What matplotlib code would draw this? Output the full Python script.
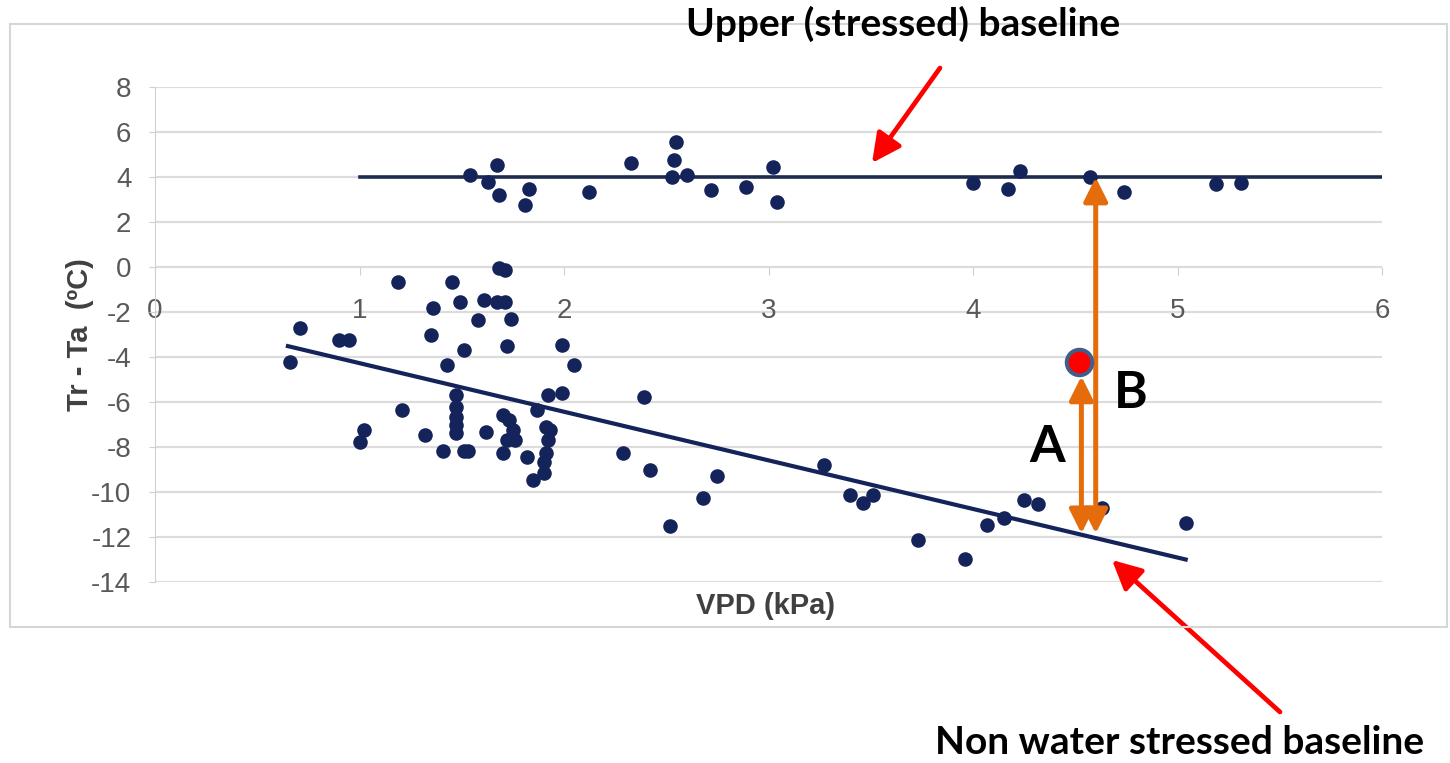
import numpy as np
import matplotlib
matplotlib.use("Agg")
import matplotlib.pyplot as plt
from matplotlib.patches import Rectangle, FancyArrowPatch

# points near the upper (stressed) baseline
upper_x = [1.54, 1.67, 1.63, 1.68, 1.83, 1.81, 2.12, 2.33, 2.55, 2.54, 2.53, 2.60,
           2.72, 2.89, 3.02, 3.04, 4.00, 4.17, 4.23, 4.57, 4.74, 5.19, 5.31]
upper_y = [4.1, 4.55, 3.8, 3.2, 3.47, 2.77, 3.36, 4.62, 5.58, 4.77, 4.03, 4.1,
           3.43, 3.55, 4.47, 2.92, 3.75, 3.5, 4.3, 4.0, 3.35, 3.7, 3.75]

# points near the non water stressed baseline
lower_x = [0.71, 0.66, 0.90, 0.95, 1.19, 1.36, 1.35, 1.45, 1.49, 1.51, 1.43, 1.61,
           1.68, 1.71, 1.67, 1.71, 1.58, 1.74, 1.72, 1.99, 2.05, 1.99, 1.92, 2.39,
           1.21, 1.02, 1.00, 1.32, 1.41, 1.51, 1.53, 1.47, 1.47, 1.47, 1.47, 1.47,
           1.62, 1.70, 1.73, 1.75, 1.76, 1.70, 1.82, 1.72, 1.87, 1.91, 1.93, 1.92,
           1.91, 1.90, 1.90, 1.85, 2.29, 2.42, 2.75, 2.68, 2.52, 3.27, 3.40, 3.46,
           3.51, 3.73, 3.96, 4.07, 4.15, 4.25, 4.32, 4.63, 5.04]
lower_y = [-2.71, -4.2, -3.23, -3.23, -0.64, -1.82, -3.0, -0.64, -1.53, -3.67, -4.34, -1.45,
           -0.05, -0.1, -1.53, -1.53, -2.34, -2.31, -3.5, -3.45, -4.34, -5.6, -5.68, -5.75,
           -6.34, -7.23, -7.75, -7.45, -8.15, -8.15, -8.15, -5.68, -6.2, -6.64, -7.0, -7.38,
           -7.3, -6.56, -6.79, -7.23, -7.67, -8.27, -8.42, -7.67, -6.34, -7.08, -7.23, -7.67,
           -8.27, -8.64, -9.16, -9.45, -8.27, -9.0, -9.28, -10.27, -11.48, -8.79, -10.12, -10.49,
           -10.12, -12.12, -12.98, -11.45, -11.16, -10.34, -10.53, -10.71, -11.38]

# baselines
upper_level = 4.0
upper_range = [1.0, 6.0]
lower_intercept = -2.1
lower_slope = -2.16
lower_range = [0.65, 5.04]

# measured crop point and distances
crop_x, crop_y = 4.52, -4.22
arrow_a_x, arrow_b_x = 4.53, 4.60

x_ticks = [0, 1, 2, 3, 4, 5, 6]
y_ticks = list(range(-14, 9, 2))

W, H = 1450, 763
fig = plt.figure(figsize=(W / 100, H / 100), dpi=100)


def fx(px):
    return px / W


def fy(py):
    return 1 - py / H


# chart frame
fig.patches.append(Rectangle((fx(10), fy(627)), fx(1447) - fx(10), fy(24) - fy(627),
                             transform=fig.transFigure, fill=False,
                             edgecolor="#d6d6d6", lw=1.5))

ax = fig.add_axes([fx(155), fy(582.3), fx(1382) - fx(155), fy(87.3) - fy(582.3)])
ax.set_xlim(0, 6)
ax.set_ylim(-14, 8)
ax.set_facecolor("none")

navy = "#14245a"
gray_txt = "#595959"

for y in y_ticks:
    ax.axhline(y, color="#dcdcdc", lw=1.6, zorder=0)

ax.plot(upper_range, [upper_level, upper_level], color="#1d2b4f", lw=2.6, zorder=2)
lx = np.array(lower_range)
ax.plot(lx, lower_intercept + lower_slope * lx, color=navy, lw=3.0, zorder=2)

ax.scatter(upper_x, upper_y, s=110, color=navy, zorder=3, linewidths=0)
ax.scatter(lower_x, lower_y, s=110, color=navy, zorder=3, linewidths=0)

for s in ["top", "right"]:
    ax.spines[s].set_visible(False)
ax.spines["left"].set_color("#d0d0d0")
ax.spines["bottom"].set_visible(False)
ax.spines["bottom"].set_position(("data", 0))

ax.set_xticks(x_ticks)
ax.set_yticks(y_ticks)
ax.set_xticklabels([str(v) for v in x_ticks])
ax.set_yticklabels([str(v) for v in y_ticks])
ax.tick_params(axis="x", length=6, color="#d0d0d0", pad=16, labelsize=20,
               labelcolor=gray_txt)
ax.tick_params(axis="y", length=4, color="#d0d0d0", pad=13, labelsize=20,
               labelcolor=gray_txt)
for lab in ax.get_xticklabels() + ax.get_yticklabels():
    lab.set_fontfamily("Liberation Sans")

fig.text(fx(80), fy(335), "Tr - Ta  (ºC)", rotation=90, ha="center", va="center",
         fontsize=21, fontweight="bold", color="#404040", family="Liberation Sans")
fig.text(fx(766), fy(606), "VPD (kPa)", ha="center", va="center",
         fontsize=21, fontweight="bold", color="#404040", family="Liberation Sans")

# orange distance arrows
orange = "#e46c0a"
base_at_arrow = lower_intercept + lower_slope * arrow_a_x + 0.05
ax.annotate("", xy=(arrow_a_x, crop_y - 0.62), xytext=(arrow_a_x, base_at_arrow),
            arrowprops=dict(arrowstyle="<|-|>,head_length=0.6,head_width=0.3",
                            color=orange, lw=3.6, mutation_scale=24,
                            shrinkA=0, shrinkB=0), zorder=4)
ax.annotate("", xy=(arrow_b_x, upper_level), xytext=(arrow_b_x, base_at_arrow),
            arrowprops=dict(arrowstyle="<|-|>,head_length=0.6,head_width=0.3",
                            color=orange, lw=3.6, mutation_scale=24,
                            shrinkA=0, shrinkB=0), zorder=4)
ax.scatter([crop_x], [crop_y], s=340, color="#ff0000", edgecolors="#3d5f8c",
           linewidths=2.8, zorder=5)

fig.text(fx(1047), fy(447), "A", ha="center", va="center", fontsize=37,
         fontweight="bold", family="Lato")
fig.text(fx(1131), fy(393), "B", ha="center", va="center", fontsize=37,
         fontweight="bold", family="Lato")

# red pointer arrows and captions
red_style = dict(arrowstyle="-|>,head_length=0.8,head_width=0.4", color="#ff0000",
                 lw=3.4, mutation_scale=22, shrinkA=0, shrinkB=0)
fig.add_artist(FancyArrowPatch((fx(940), fy(68)), (fx(872), fy(163)),
                               transform=fig.transFigure, **red_style))
fig.add_artist(FancyArrowPatch((fx(1280), fy(712)), (fx(1112), fy(560)),
                               transform=fig.transFigure, **red_style))

fig.text(fx(903), fy(24), "Upper (stressed) baseline", ha="center", va="center",
         fontsize=28, fontweight="bold", family="Lato")
fig.text(fx(1180), fy(742), "Non water stressed baseline", ha="center", va="center",
         fontsize=28, fontweight="bold", family="Lato")

fig.savefig("out.png", dpi=100)
